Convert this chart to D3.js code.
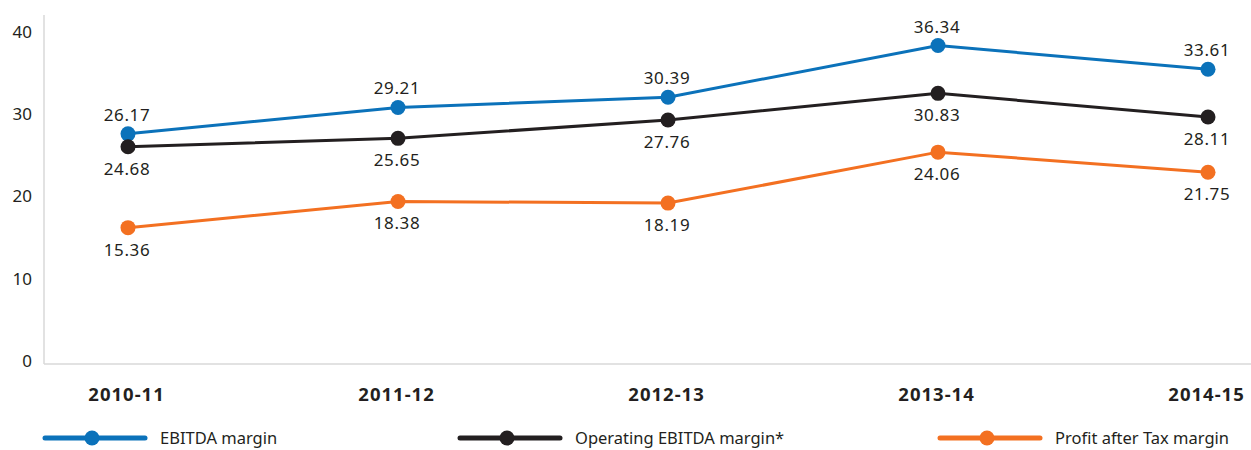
<!DOCTYPE html>
<html>
<head>
<meta charset="utf-8">
<script src="https://cdn.jsdelivr.net/npm/d3@7"></script>
<style>
  html, body { margin: 0; padding: 0; background: #fff; }
  svg { display: block; font-family: "Noto Sans", "Open Sans", sans-serif; }
</style>
</head>
<body>
<svg id="chart" width="1251" height="450"></svg>
<script>
// categories and series
const years = ['2010-11', '2011-12', '2012-13', '2013-14', '2014-15'];
const ebitda = [26.17, 29.21, 30.39, 36.34, 33.61];
const opEbitda = [24.68, 25.65, 27.76, 30.83, 28.11];
const pat = [15.36, 18.38, 18.19, 24.06, 21.75];
const yTicks = [0, 10, 20, 30, 40];

const series = [
  { key: 'ebitda', label: 'EBITDA margin', values: ebitda, color: '#0b72ba', pos: 'above' },
  { key: 'op', label: 'Operating EBITDA margin*', values: opEbitda, color: '#231f20', pos: 'below' },
  { key: 'pat', label: 'Profit after Tax margin', values: pat, color: '#f37021', pos: 'below' },
];

const svg = d3.select('#chart');
const left = 44;
const bottom = 364;

const x = d3.scalePoint().domain(years).range([128, 1208]);
// axis labels and plotted points don't share the same scale in the original
const yAxisScale = d3.scaleLinear().domain([0, 40]).range([361, 32]);
const y = d3.scaleLinear().domain([0, 37.9]).range([361, 32]);

// axis lines
svg.append('line')
  .attr('x1', left).attr('x2', left)
  .attr('y1', 15).attr('y2', bottom)
  .attr('stroke', '#d9d9d9').attr('stroke-width', 1.5);
svg.append('line')
  .attr('x1', left).attr('x2', 1251)
  .attr('y1', bottom).attr('y2', bottom)
  .attr('stroke', '#d9d9d9').attr('stroke-width', 1.5);

// y tick labels
const yAxis = d3.axisLeft(yAxisScale).tickValues(yTicks).tickSize(0).tickPadding(0);
svg.append('g')
  .attr('transform', 'translate(32,0)')
  .call(yAxis)
  .call((g) => g.select('.domain').remove())
  .selectAll('text')
  .attr('font-size', 17)
  .attr('font-family', '"Noto Sans", sans-serif')
  .attr('fill', '#231f20');

// x category labels
const xAxis = d3.axisBottom(x).tickSize(0).tickPadding(0);
svg.append('g')
  .attr('transform', 'translate(-2,388)')
  .call(xAxis)
  .call((g) => g.select('.domain').remove())
  .selectAll('text')
  .attr('font-size', 18.5)
  .attr('font-weight', 'bold')
  .attr('letter-spacing', 1)
  .attr('font-family', '"Noto Sans", sans-serif')
  .attr('fill', '#231f20');

const line = d3.line()
  .x((d, i) => x(years[i]))
  .y((d) => y(d));

const plot = svg.append('g');
series.forEach((s) => {
  const g = plot.append('g').attr('class', s.key);
  g.append('path')
    .attr('d', line(s.values))
    .attr('fill', 'none')
    .attr('stroke', s.color)
    .attr('stroke-width', 3);
  g.selectAll('circle')
    .data(s.values)
    .join('circle')
    .attr('cx', (d, i) => x(years[i]))
    .attr('cy', (d) => y(d))
    .attr('r', 7.5)
    .attr('fill', s.color);
  g.selectAll('text')
    .data(s.values)
    .join('text')
    .attr('x', (d, i) => x(years[i]) - 1)
    .attr('y', (d) => y(d) + (s.pos === 'above' ? -13 : 28))
    .attr('text-anchor', 'middle')
    .attr('font-size', 17)
    .attr('letter-spacing', 0.6)
    .attr('fill', '#231f20')
    .text((d) => d.toFixed(2));
});

// legend
const legendX = [45, 460, 940];
const legend = svg.append('g').attr('transform', 'translate(0,438)');
series.forEach((s, i) => {
  const g = legend.append('g').attr('transform', `translate(${legendX[i]},0)`);
  g.append('line')
    .attr('x1', 0).attr('x2', 100)
    .attr('stroke', s.color)
    .attr('stroke-width', 5)
    .attr('stroke-linecap', 'round');
  g.append('circle').attr('cx', 47).attr('r', 7.5).attr('fill', s.color);
  g.append('text')
    .attr('x', 115)
    .attr('y', 6)
    .attr('font-size', 16.5)
    .attr('fill', '#231f20')
    .text(s.label);
});
</script>
</body>
</html>
